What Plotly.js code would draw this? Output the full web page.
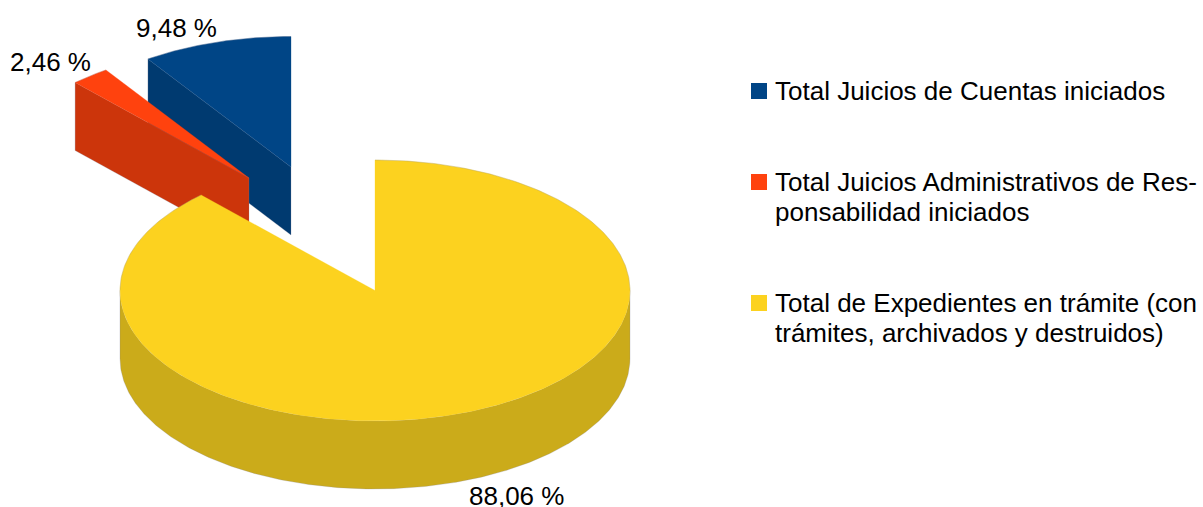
<!DOCTYPE html>
<html><head><meta charset="utf-8">
<script src="https://cdn.plot.ly/plotly-3.0.1.min.js"></script>
<style>html,body{margin:0;padding:0;background:#fff;overflow:hidden}</style>
</head><body><div id="chart" style="width:1203px;height:507px"></div>
<script>
const categories = ["Total Juicios de Cuentas iniciados","Total Juicios Administrativos de Responsabilidad iniciados","Total de Expedientes en trámite (con trámites, archivados y destruidos)"];
const values = [9.48, 2.46, 88.06];
const legendLines = [["Total Juicios de Cuentas iniciados"],["Total Juicios Administrativos de Res-","ponsabilidad iniciados"],["Total de Expedientes en trámite (con","trámites, archivados y destruidos)"]];

// styles and placement, separate from the data
const topColors  = ["#004586","#ff420e","#fcd21f"];
const wallColors = ["#003a70","#cc350b","#cbab1a"];
const W=1203,H=507, CX=375, CY=290.5, RX=255, RY=130.5, DEPTH=68/RY;
const explode = [[-84/RX,123.5/RY],[-126/RX,112.5/RY],[0,0]];
const labelPos = [[176.5,28],[50,62],[516.5,496]];
const legendSwatch = [[751,83],[751,174],[751,295]];
const legendTextY = [[91],[182,212],[303,333]];
const LEGEND_TEXT_X = 773;
const FONT = {family:"Liberation Sans, Arial, sans-serif", color:"#000000"};
const EDGE = {color:"rgba(130,130,150,0.5)", width:0.5};

const total = values.reduce((a,b)=>a+b,0);
// slices run counter-clockwise from 12 o'clock, in series order; angle measured clockwise from top
let acc = 0;
const slices = values.map((v,i)=>{
  const end = 2*Math.PI*(1-acc/total); acc += v;
  const start = 2*Math.PI*(1-acc/total);
  return {start,end,dx:explode[i][0],dy:explode[i][1]};
});
function pt(s,a,drop){return [s.dx+Math.sin(a), s.dy+Math.cos(a)-(drop||0)];}
function arc(s,a0,a1,drop){
  const n=Math.max(2,Math.ceil(Math.abs(a1-a0)/0.01)), out=[];
  for(let k=0;k<=n;k++) out.push(pt(s,a0+(a1-a0)*k/n,drop));
  return out;
}
function poly(points,color,name,line){
  const c=points.concat([points[0]]);
  return {type:"scatter",mode:"lines",x:c.map(p=>p[0]),y:c.map(p=>p[1]),fill:"toself",fillcolor:color,
    line:line||{color:EDGE.color,width:EDGE.width},name:name,showlegend:false,hoverinfo:"name"};
}
function topFace(s,color,name){
  return poly([[s.dx,s.dy]].concat(arc(s,s.start,s.end)),color,name,{color:color,width:0.3});
}
function outline(points,name){
  return {type:"scatter",mode:"lines",x:points.map(p=>p[0]),y:points.map(p=>p[1]),
    line:{color:EDGE.color,width:EDGE.width},name:name,showlegend:false,hoverinfo:"skip"};
}
function cutWall(s,color,name){ // the visible cut face along the slice's starting radius
  const o=pt(s,s.start), ob=pt(s,s.start,DEPTH);
  return poly([o,[s.dx,s.dy],[s.dx,s.dy-DEPTH],ob],color,name);
}
function rimWall(s,a0,a1,color,name){
  return poly(arc(s,a0,a1).concat(arc(s,a1,a0,DEPTH)),color,name);
}
const traces=[
  cutWall(slices[0],wallColors[0],categories[0]),
  topFace(slices[0],topColors[0],categories[0]),
  outline(arc(slices[0],slices[0].start,slices[0].end),categories[0]),
  cutWall(slices[1],wallColors[1],categories[1]),
  topFace(slices[1],topColors[1],categories[1]),
  outline(arc(slices[1],slices[1].start,slices[1].end),categories[1]),
  rimWall(slices[2],Math.PI/2,3*Math.PI/2,wallColors[2],categories[2]),
  topFace(slices[2],topColors[2],categories[2]),
  outline(arc(slices[2],3*Math.PI/2,slices[2].end),categories[2]),
  outline(arc(slices[2],slices[2].start,Math.PI/2),categories[2])
];

const annotations=[], shapes=[];
const pctText=v=>v.toFixed(2).replace(".",",")+" %";
values.forEach((v,i)=>{
  annotations.push({xref:"paper",yref:"paper",x:labelPos[i][0]/W,y:1-labelPos[i][1]/H,xanchor:"center",yanchor:"middle",
    showarrow:false,text:pctText(v),font:{...FONT,size:26}});
  const sw=legendSwatch[i];
  shapes.push({type:"rect",xref:"paper",yref:"paper",x0:sw[0]/W,x1:(sw[0]+16)/W,y0:1-sw[1]/H,y1:1-(sw[1]+16)/H,
    fillcolor:topColors[i],line:{width:0}});
  legendLines[i].forEach((t,j)=>annotations.push({xref:"paper",yref:"paper",x:LEGEND_TEXT_X/W,y:1-legendTextY[i][j]/H,
    xanchor:"left",yanchor:"middle",showarrow:false,text:t,font:{...FONT,size:26}}));
});

const layout={width:W,height:H,margin:{l:0,r:0,t:0,b:0},paper_bgcolor:"#fff",plot_bgcolor:"#fff",showlegend:false,
  xaxis:{range:[-CX/RX,(W-CX)/RX],visible:false,fixedrange:true},
  yaxis:{range:[(CY-H)/RY,CY/RY],visible:false,fixedrange:true},
  annotations,shapes};
Plotly.newPlot("chart",traces,layout,{displayModeBar:false,staticPlot:true});
</script></body></html>
